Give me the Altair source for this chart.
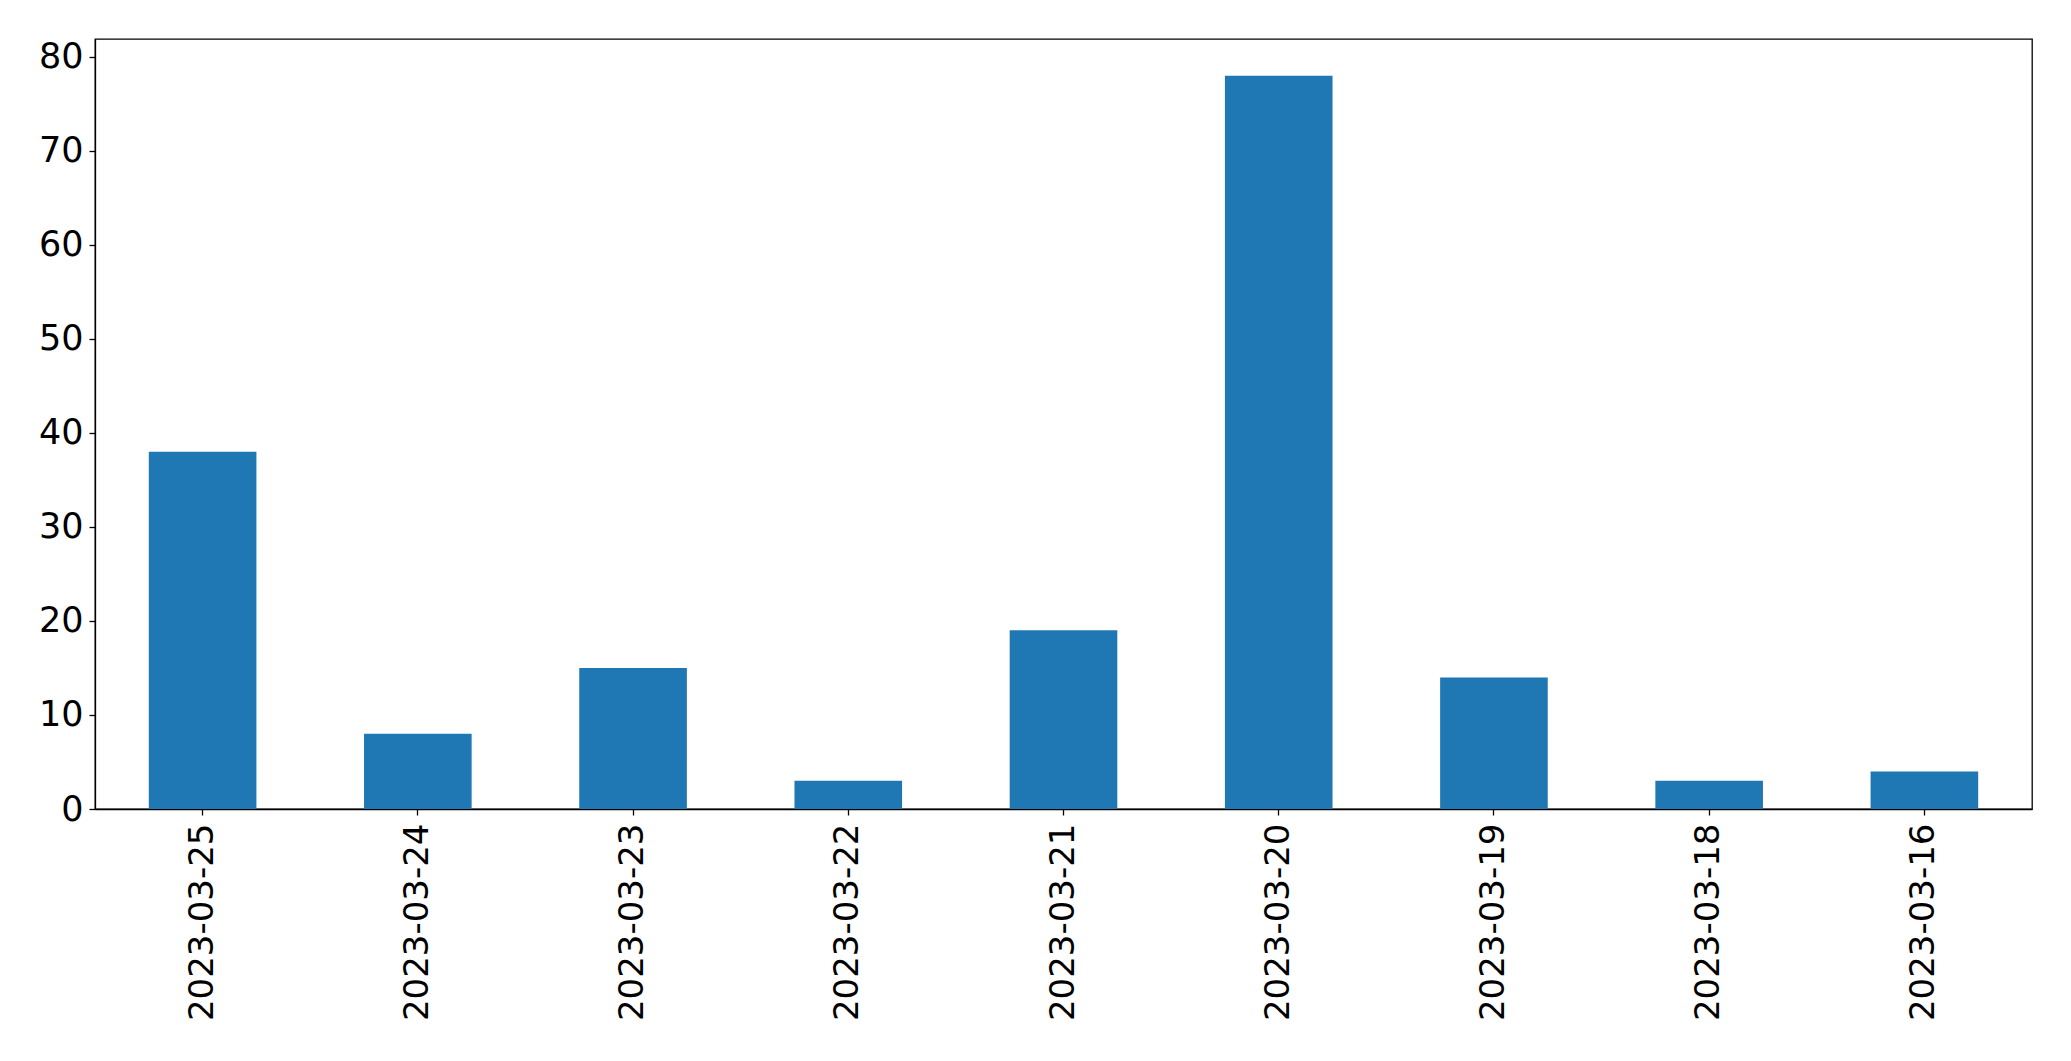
import altair as alt
import pandas as pd

dates = ["2023-03-25", "2023-03-24", "2023-03-23", "2023-03-22", "2023-03-21",
         "2023-03-20", "2023-03-19", "2023-03-18", "2023-03-16"]
counts = [38, 8, 15, 3, 19, 78, 14, 3, 4]
y_ticks = [0, 10, 20, 30, 40, 50, 60, 70, 80]

df = pd.DataFrame({"date": dates, "count": counts})

chart = alt.Chart(df).mark_bar(color="#1f77b4").encode(
    x=alt.X("date:N", sort=dates, title=None,
            scale=alt.Scale(paddingInner=0.5, paddingOuter=0.25),
            axis=alt.Axis(labelAngle=-90, labelFontSize=34, labelFont="DejaVu Sans",
                          labelColor="black", tickColor="black", domainColor="black",
                          labelLimit=0, labelOverlap=False,
                          tickSize=6, labelPadding=8, domainWidth=1.3, tickWidth=1.3)),
    y=alt.Y("count:Q", title=None,
            scale=alt.Scale(domain=[0, 81.9], nice=False, zero=True),
            axis=alt.Axis(values=y_ticks, grid=False, labelFontSize=35, labelFont="DejaVu Sans",
                          labelColor="black", tickColor="black", domainColor="black",
                          tickSize=6, labelPadding=6, domainWidth=1.3, tickWidth=1.3)),
).properties(
    width=1937, height=770,
    autosize=alt.AutoSizeParams(type="none"),
    padding={"left": 87, "top": 31, "right": 20, "bottom": 225},
).configure_view(stroke="black", strokeWidth=1.3)

chart.save("out.html", embed_options={"renderer": "svg", "actions": False})
